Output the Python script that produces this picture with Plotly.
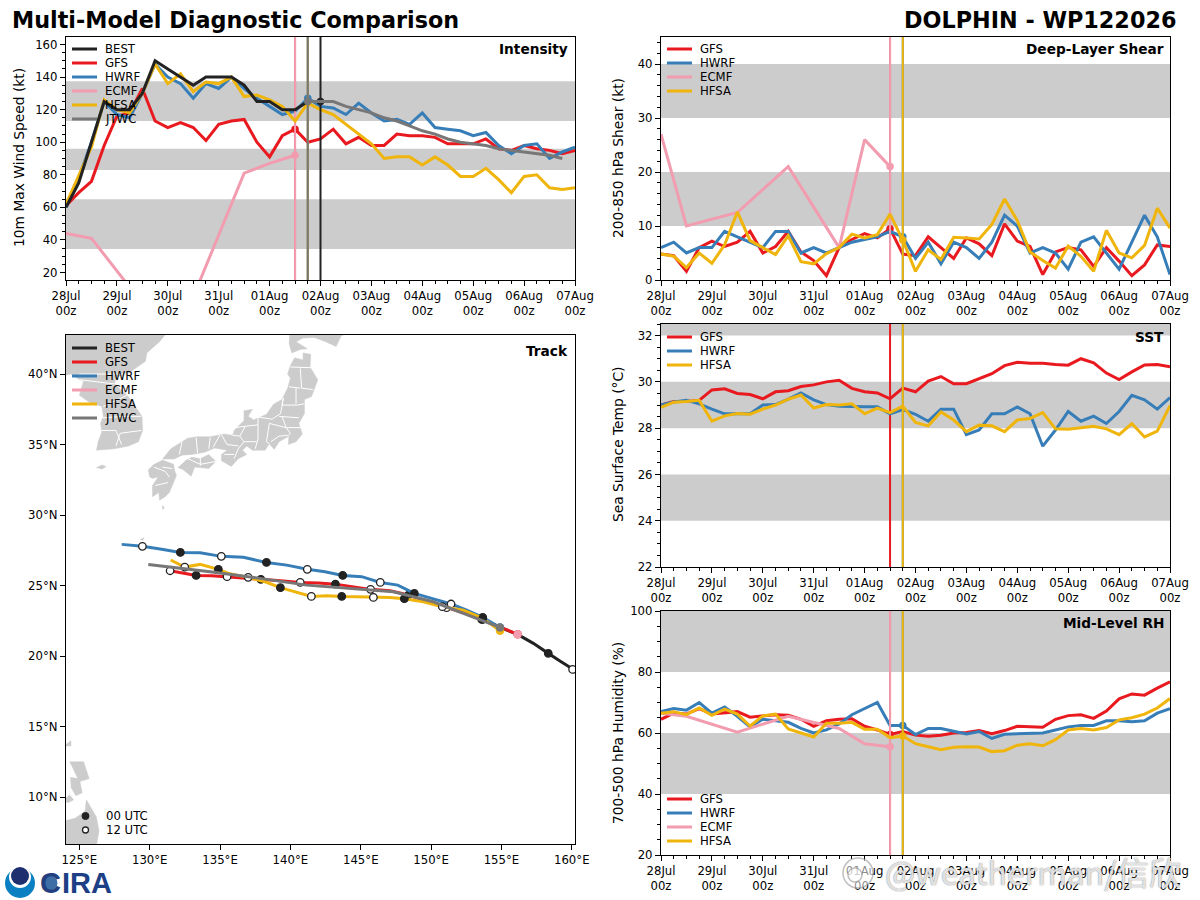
"""Multi-model tropical cyclone diagnostic panel, 5 subplots placed by pixel."""
import pandas as pd
import plotly.graph_objects as go

W, H = 1200, 900
FONT = "DejaVu Sans"

TIMES = pd.date_range("2026-07-28 00:00", "2026-08-07 00:00", freq="6h")
TICK_DATES = pd.date_range("2026-07-28", "2026-08-07", freq="D")
TICK_TEXT = [f"{d.strftime('%d%b')}<br>00z" for d in TICK_DATES]

COLORS = {"BEST": "#222222", "GFS": "#e8191f", "HWRF": "#377eb8",
          "ECMF": "#f29cb0", "HFSA": "#f0b50c", "JTWC": "#777777"}

ECMF_STEPS = [0, 2, 6, 10, 14, 16, 18]
INIT_STEP = {"BEST": 20, "GFS": 18, "HWRF": 19, "ECMF": 18, "HFSA": 19, "JTWC": 19}

# intensity (kt)
INT_BEST = [60, 75, 100, 125, 120, 120, 130, 150, 145, 140, 135, 140, 140, 140, 135, 125, 125, 120, 120, 125, 125]
INT_GFS = [61, 69, 76, 98, 116, 118, 133, 113, 109, 112, 109, 101, 111, 113, 114, 100, 91, 104, 108, 100, 102,
           108, 99, 103, 98, 98, 105, 104, 104, 103, 99, 99, 99, 102, 96, 95, 98, 96, 95, 93, 95]
INT_HWRF = [60, 78, 100, 125, 117, 115, 130, 148, 140, 136, 127, 136, 133, 140, 133, 127, 122, 117, 119, 127, 122,
            121, 117, 124, 118, 113, 114, 111, 118, 109, 108, 107, 104, 106, 98, 93, 98, 99, 90, 94, 97]
INT_ECMF = [44, 41, 1, 5, 81, 87, 92]
INT_HFSA = [62, 80, 97, 126, 120, 118, 130, 148, 136, 142, 131, 137, 136, 140, 128, 129, 126, 122, 113, 124, 120,
            117, 111, 105, 99, 90, 91, 91, 86, 91, 86, 79, 79, 84, 77, 69, 79, 80, 72, 71, 72]
INT_JTWC = [125, 125, 125, 122, 120, 118, 115, 113, 110, 107, 105, 102, 100, 99, 98, 96, 95, 94, 93, 92, 90]

# deep-layer shear (kt)
SHR_GFS = [4.8, 4.5, 1.6, 6, 7.2, 6.2, 7, 9, 5, 6.2, 9, 5.2, 3.6, 0.8, 6, 7.5, 8.6, 7.8, 9.5, 4.8, 4.5,
           8, 6, 4, 7.8, 6.7, 4.5, 10.4, 7.2, 6.2, 1, 5.2, 6, 5.6, 2.5, 6, 3.5, 0.8, 2.8, 6.5, 6.2]
SHR_HWRF = [6, 7, 5, 6, 6, 9, 8, 7, 6, 9, 9, 5, 6, 5, 6, 7, 7.5, 8, 9, 8, 4,
            7, 3, 7, 6, 4, 7, 12, 10, 5, 6, 5, 2, 7, 8, 5, 2, 7, 12, 8, 1]
SHR_ECMF = [27, 10, 12.5, 21, 6, 26, 21]
SHR_HFSA = [4.8, 4.4, 2.3, 5, 3.1, 6.5, 12.6, 7.3, 6, 4.7, 8.2, 3.4, 3, 4.9, 6, 8.5, 7.8, 8.4, 12.2, 7.4, 1.6,
            5.6, 3.8, 7.9, 7.8, 7.6, 10.3, 15, 11, 5.2, 3.6, 2.2, 6.3, 4.4, 1.6, 9.2, 5, 4.1, 6.4, 13.3, 9.6]

# sea surface temperature (C)
SST_GFS = [29, 29.15, 29.15, 29.2, 29.65, 29.7, 29.5, 29.45, 29.27, 29.57, 29.62, 29.8, 29.87, 30, 30.07, 29.72,
           29.57, 29.52, 29.27, 29.73, 29.57, 30.03, 30.23, 29.92, 29.92, 30.12, 30.35, 30.7, 30.85, 30.8, 30.8,
           30.75, 30.72, 31, 30.82, 30.38, 30.1, 30.43, 30.73, 30.75, 30.65]
SST_HWRF = [29, 29.13, 29.2, 29.05, 28.82, 28.62, 28.62, 28.62, 29, 29.02, 29.25, 29.52, 29.22, 29.02, 28.95, 28.92,
            28.92, 28.92, 28.62, 28.8, 28.6, 28.3, 28.82, 28.82, 27.72, 27.92, 28.62, 28.62, 28.92, 28.62, 27.22,
            27.92, 28.72, 28.3, 28.52, 28.2, 28.72, 29.42, 29.22, 28.82, 29.32]
SST_HFSA = [28.9, 29.12, 29.15, 29.2, 28.3, 28.53, 28.63, 28.6, 28.82, 29, 29.25, 29.43, 28.87, 29.02, 29, 29.05,
            28.62, 28.87, 28.67, 28.95, 28.25, 28.1, 28.7, 28.35, 27.85, 28.13, 28.1, 27.85, 28.35, 28.42, 28.67,
            27.97, 27.95, 28.02, 28.08, 27.97, 27.72, 28.2, 27.62, 27.87, 28.97]

# mid-level humidity (%)
RH_GFS = [64.5, 66.5, 66.2, 68, 66.2, 66.5, 67, 65.2, 65.5, 66, 65.8, 64.5, 62.2, 64, 64.5, 64.7, 62.2, 61, 59.5,
          60.5, 59.3, 58.9, 59.3, 60, 60.2, 60.8, 59.8, 60.8, 62.2, 62, 61.9, 64.5, 65.7, 66, 64.8, 67.2, 71.2,
          72.8, 72.4, 74.7, 76.8]
RH_HWRF = [67, 68, 67.5, 70, 66.5, 68.5, 65.5, 62, 64.5, 64, 63.5, 61.5, 60, 61, 63, 66, 68, 70, 62.5, 62.5, 59.5,
           61.5, 61.5, 60.5, 59.7, 60.5, 58.2, 59.6, 59.7, 60, 60, 61, 62, 62.5, 62.5, 64, 64, 63.7, 64, 66.5, 68]
RH_ECMF = [66.5, 65.5, 60.3, 65.5, 61.5, 56.5, 55.5]
RH_HFSA = [66.5, 67, 66, 68.2, 65.8, 67.8, 66.2, 62.3, 65.6, 66.2, 61.3, 60, 58.7, 63.2, 63.2, 63.5, 61.2, 61.2,
           58.5, 59, 56.5, 55.5, 54.5, 55.3, 55.5, 55.4, 53.9, 54.2, 56, 56.5, 55.8, 57.8, 61, 61.5, 61, 61.8,
           64.3, 65, 66.2, 68.2, 71.3]

# tracks, 6-hourly, from the first plotted step
BEST_LON = [161.3, 160.06, 159.16, 158.33, 157.27, 156.15, 154.9, 153.67]
BEST_LAT = [18.3, 19.05, 19.65, 20.19, 20.9, 21.54, 22.03, 22.6]
GFS_LON = [156.15, 154.9, 153.6, 152.4, 151.1, 149.7, 148.4, 147.08, 145.7, 144.5, 143.2, 142.0, 140.7, 139.3,
           137.9, 136.7, 135.5, 134.4, 133.3, 132.4, 131.45]
GFS_LAT = [21.54, 22.08, 22.6, 23.03, 23.43, 23.9, 24.33, 24.63, 24.73, 24.92, 25.1, 25.18, 25.22, 25.34,
           25.44, 25.53, 25.63, 25.7, 25.72, 25.86, 26.05]
HWRF_LON = [154.9, 153.67, 152.53, 151.42, 150.04, 148.81, 147.63, 146.39, 145.07, 143.72, 142.46, 141.2, 139.74,
            138.3, 136.66, 135.09, 133.58, 132.18, 130.85, 129.48, 128.01]
HWRF_LAT = [22.03, 22.74, 23.26, 23.69, 24.09, 24.44, 25.03, 25.22, 25.63, 25.72, 25.98, 26.15, 26.45,
            26.64, 27.0, 27.07, 27.33, 27.35, 27.57, 27.78, 27.92]
HFSA_LON = [154.9, 153.67, 152.29, 150.8, 149.45, 148.1, 147.08, 145.9, 144.7, 143.65, 142.58, 141.49, 140.33,
            139.29, 138.2, 137.0, 135.59, 134.88, 133.58, 132.49, 131.49]
HFSA_LAT = [21.8, 22.67, 23.26, 23.5, 23.85, 24.07, 24.16, 24.16, 24.21, 24.23, 24.28, 24.23, 24.56,
            24.85, 25.27, 25.58, 25.86, 26.15, 26.5, 26.31, 26.81]
ECMF_LON = [156.15]
ECMF_LAT = [21.54]
JTWC_LON = [154.9, 152.29, 150.16, 147.32, 144.47, 141.16, 137.84, 134.29, 129.9]
JTWC_LAT = [22.03, 23.01, 23.85, 24.56, 24.79, 25.03, 25.51, 25.98, 26.5]

# land outlines (lon, lat)
HONSHU = [(130.9, 33.95), (131.5, 34.7), (132.7, 35.45), (133.3, 35.55), (134.3, 35.55), (135.3, 35.75), (135.9, 35.65),
          (136.0, 36.0), (136.7, 36.7), (136.7, 37.4), (137.3, 37.5), (137.0, 37.0), (137.4, 36.75), (138.3, 37.15),
          (138.8, 37.85), (139.4, 38.2), (139.8, 39.0), (140.0, 39.7), (139.8, 40.0), (140.0, 40.6), (140.3, 41.15),
          (140.9, 41.0), (140.9, 41.5), (141.45, 41.4), (141.4, 40.5), (141.95, 39.6), (141.5, 38.4), (141.0, 38.2),
          (141.0, 37.2), (140.6, 36.5), (140.85, 35.75), (140.4, 35.2), (139.85, 35.0), (139.9, 35.6), (139.2, 35.2),
          (138.85, 34.65), (138.5, 35.05), (138.2, 34.6), (137.3, 34.6), (136.9, 34.9), (136.6, 34.6), (136.9, 34.3),
          (136.3, 34.0), (135.8, 33.45), (135.1, 33.85), (135.1, 34.3), (135.5, 34.6), (134.6, 34.75), (133.9, 34.45),
          (133.0, 34.3), (132.3, 34.25), (131.7, 33.95)]
HOKKAIDO = [(139.9, 42.2), (140.1, 41.5), (140.7, 41.75), (141.2, 41.8), (140.4, 42.3), (140.9, 42.55), (141.7, 42.6),
            (142.5, 42.3), (143.25, 41.95), (143.6, 42.7), (144.3, 43.0), (144.3, 44.0), (140.0, 44.0)]
SHIKOKU = [(132.0, 33.35), (132.6, 33.9), (133.0, 34.1), (133.6, 34.0), (134.2, 34.3), (134.7, 33.8), (134.2, 33.3),
           (133.2, 33.4), (132.95, 32.75), (132.4, 33.2)]
KYUSHU = [(130.9, 33.9), (131.7, 33.6), (131.75, 33.2), (131.9, 32.8), (131.4, 31.6), (131.1, 31.3), (130.7, 31.05),
          (130.65, 31.6), (130.2, 31.3), (130.2, 32.1), (130.6, 32.7), (130.2, 32.6), (130.0, 32.7), (129.9, 33.2),
          (130.3, 33.6)]
KOREA = [(126.2, 34.6), (127.5, 34.7), (128.5, 34.9), (129.2, 35.2), (129.5, 36.0), (129.45, 37.0), (128.4, 38.5),
         (127.5, 39.3), (127.6, 39.8), (128.4, 40.0), (129.7, 40.9), (129.8, 41.5), (130.7, 42.3), (131.2, 42.9),
         (123.5, 42.9), (123.5, 39.8), (124.4, 40.0), (125.0, 39.6), (125.3, 39.5), (125.0, 38.5), (125.7, 38.0),
         (126.6, 37.7), (126.7, 37.0), (126.5, 36.5), (126.6, 35.9), (126.3, 35.1)]
JEJU = [(126.2, 33.35), (126.6, 33.55), (126.9, 33.45), (126.6, 33.25)]
TANEGASHIMA = [(130.9, 30.7), (131.05, 30.5), (130.9, 30.4)]
AMAMI = [(129.3, 28.25), (129.6, 28.4), (129.5, 28.2)]
MINDANAO = [(123.5, 8.2), (124.7, 8.5), (125.4, 9.0), (125.5, 9.8), (126.2, 8.6), (126.4, 7.6), (126.2, 6.5), (123.5, 6.5)]
LEYTE = [(124.35, 11.4), (125.0, 11.3), (125.2, 10.3), (124.75, 10.1), (124.4, 10.7)]
SAMAR = [(124.3, 12.5), (125.3, 12.5), (125.7, 11.3), (125.0, 11.1), (124.6, 11.9)]
BOHOL = [(123.8, 9.7), (124.3, 10.15), (124.6, 9.8), (124.2, 9.6)]
CATANDUANES = [(123.9, 13.6), (124.4, 14.0), (124.4, 13.6)]
LAND = [HONSHU, HOKKAIDO, SHIKOKU, KYUSHU, KOREA, JEJU, TANEGASHIMA, AMAMI, MINDANAO, LEYTE, SAMAR, BOHOL, CATANDUANES]

BORDERS = [
    [(140.0, 40.5), (141.5, 40.45)], [(140.7, 40.4), (140.8, 39.0)], [(140.8, 39.0), (141.6, 38.9)],
    [(139.9, 39.1), (140.7, 39.0)], [(140.4, 39.0), (140.4, 37.9)], [(139.5, 38.3), (139.4, 37.8), (140.5, 37.8), (141.0, 37.9)],
    [(139.2, 37.0), (140.6, 36.9)], [(139.5, 38.3), (139.3, 37.2), (138.7, 36.8), (137.7, 36.95)],
    [(139.4, 37.0), (139.7, 36.2), (140.75, 36.2)], [(138.5, 36.5), (139.7, 36.2), (140.0, 35.8), (139.8, 35.6)],
    [(138.6, 35.2), (139.2, 35.6), (139.8, 35.65)], [(137.7, 36.95), (137.7, 35.4), (137.5, 34.7)],
    [(138.5, 36.5), (138.3, 35.2), (138.5, 35.05)], [(136.8, 36.3), (137.7, 36.4)],
    [(137.6, 35.2), (136.7, 35.2), (136.4, 35.6), (136.8, 36.3)], [(136.1, 36.2), (136.8, 36.3)],
    [(135.9, 35.65), (136.4, 35.6)], [(136.7, 35.2), (136.3, 34.7), (136.0, 34.0)],
    [(135.1, 35.7), (135.5, 35.0), (136.3, 34.9)], [(135.3, 34.3), (136.0, 34.3)], [(135.0, 35.7), (134.5, 34.8)],
    [(134.3, 35.5), (134.2, 34.7)], [(133.3, 35.5), (133.4, 34.4)], [(132.3, 35.2), (132.1, 34.3)],
    [(132.7, 34.0), (133.6, 33.6), (134.7, 33.8)], [(133.6, 34.2), (133.6, 33.5)],
    [(130.9, 33.4), (131.6, 33.3)], [(130.3, 33.4), (131.1, 33.1), (131.4, 32.7)], [(130.4, 32.1), (131.3, 32.3)],
    [(126.7, 37.7), (128.4, 38.5)], [(126.6, 36.9), (128.3, 37.0), (129.4, 37.0)], [(126.6, 36.0), (127.6, 36.0), (128.0, 35.0)],
    [(127.6, 34.9), (127.9, 35.8), (129.4, 36.0)], [(125.0, 39.6), (127.5, 39.3)], [(125.0, 40.0), (128.4, 40.0)],
]

BANDS_INT = [(34.5, 65), (83, 96), (113, 137.5)]
BANDS_SHR = [(10, 20), (30, 40)]
BANDS_SST = [(24, 26), (28, 30), (32, 34)]
BANDS_RH = [(40, 60), (80, 100)]


def dom_x(left, right):
    return [left / W, right / W]


def dom_y(top, bottom):
    return [1 - bottom / H, 1 - top / H]


def time_axis(left, right, anchor):
    return dict(domain=dom_x(left, right), anchor=anchor, type="date",
                range=[TICK_DATES[0], TICK_DATES[-1]], tickmode="array",
                tickvals=list(TICK_DATES), ticktext=TICK_TEXT, ticks="outside", ticklen=5,
                tickwidth=1.1, tickcolor="black", tickangle=0, showgrid=False, zeroline=False,
                showline=True, mirror=True, linecolor="black", linewidth=1.3, automargin=False,
                tickfont=dict(family=FONT, size=11.7, color="black"),
                minor=dict(dtick=6 * 3600 * 1000, tick0="2026-07-28", ticks="outside", ticklen=3,
                           tickwidth=1, tickcolor="black", showgrid=False))


def value_axis(top, bottom, anchor, yrange, dtick, minor):
    return dict(domain=dom_y(top, bottom), anchor=anchor, range=yrange, dtick=dtick, ticks="outside", ticklen=5,
                tickwidth=1.1, tickcolor="black", showgrid=False, zeroline=False, showline=True, mirror=True,
                linecolor="black", linewidth=1.3, automargin=False,
                tickfont=dict(family=FONT, size=11.7, color="black"),
                minor=dict(dtick=minor, ticks="outside", ticklen=3, tickwidth=1, tickcolor="black", showgrid=False))


fig = go.Figure()


def add_series(xref, yref, model, steps, values, vrange, dots):
    """Line, start-of-forecast vertical line and marker for one model."""
    color = COLORS[model]
    x = [TIMES[s] for s in steps]
    common = dict(xaxis=xref, yaxis=yref, showlegend=False, hoverinfo="skip")
    fig.add_trace(go.Scatter(x=x, y=values, mode="lines", line=dict(color=color, width=3), name=model, **common))
    start = INIT_STEP[model]
    fig.add_trace(go.Scatter(x=[TIMES[start], TIMES[start]], y=vrange, mode="lines",
                             line=dict(color=color, width=2), **common))
    if dots:
        fig.add_trace(go.Scatter(x=[TIMES[start]], y=[values[steps.index(start)]], mode="markers",
                                 marker=dict(color=color, size=7.5), **common))


def add_panel(xref, yref, series, vrange, bands, dots=True):
    for lo, hi in bands:
        fig.add_shape(type="rect", xref=f"{xref} domain", yref=yref, x0=0, x1=1, y0=lo, y1=min(hi, vrange[1]),
                      fillcolor="#cccccc", line_width=0, layer="below")
    for model, values in series:
        if model == "ECMF":
            steps = ECMF_STEPS
        elif model == "JTWC":
            steps = list(range(19, 19 + len(values)))
        else:
            steps = list(range(len(values)))
        add_series(xref, yref, model, steps, values, vrange, dots)


def add_label(px, py, text, size=11.7, anchor="left", bold=False, color="black", family=FONT, angle=0):
    fig.add_annotation(xref="paper", yref="paper", x=px / W, y=1 - py / H, text=f"<b>{text}</b>" if bold else text,
                       showarrow=False, xanchor=anchor, yanchor="middle", borderpad=0, textangle=angle,
                       font=dict(family=family, size=size, color=color))


def add_legend(left, top, models, step=14):
    for i, model in enumerate(models):
        y = 1 - (top + i * step) / H
        fig.add_shape(type="line", xref="paper", yref="paper", x0=left / W, x1=(left + 25) / W, y0=y, y1=y,
                      line=dict(color=COLORS[model], width=3), layer="above")
        add_label(left + 32, top + i * step, model)


def pixel_circle(cx, cy, r, fill, line="rgba(0,0,0,0)", lw=0):
    fig.add_shape(type="circle", xref="paper", yref="paper", x0=(cx - r) / W, x1=(cx + r) / W,
                  y0=1 - (cy + r) / H, y1=1 - (cy - r) / H, fillcolor=fill,
                  line=dict(color=line, width=lw), layer="above")


RANGE_INT = [15.4, 164.6]
RANGE_SHR = [0, 45]
RANGE_SST = [22, 32.5]
RANGE_RH = [20, 100]

# best track and JTWC sit on top of the model lines
add_panel("x", "y", [("GFS", INT_GFS), ("HWRF", INT_HWRF), ("ECMF", INT_ECMF), ("HFSA", INT_HFSA),
                     ("BEST", INT_BEST), ("JTWC", INT_JTWC)], RANGE_INT, BANDS_INT)
add_panel("x2", "y2", [("GFS", SHR_GFS), ("HWRF", SHR_HWRF), ("ECMF", SHR_ECMF), ("HFSA", SHR_HFSA)], RANGE_SHR, BANDS_SHR)
add_panel("x4", "y4", [("GFS", SST_GFS), ("HWRF", SST_HWRF), ("HFSA", SST_HFSA)], RANGE_SST, BANDS_SST, dots=False)
add_panel("x5", "y5", [("GFS", RH_GFS), ("HWRF", RH_HWRF), ("ECMF", RH_ECMF), ("HFSA", RH_HFSA)], RANGE_RH, BANDS_RH)

# track map
for poly in LAND:
    fig.add_trace(go.Scatter(x=[p[0] for p in poly], y=[p[1] for p in poly], xaxis="x3", yaxis="y3", mode="lines",
                             fill="toself", fillcolor="#cccccc", line=dict(color="#cccccc", width=0.5),
                             showlegend=False, hoverinfo="skip"))
border_lon, border_lat = [], []
for seg in BORDERS:
    border_lon += [p[0] for p in seg] + [None]
    border_lat += [p[1] for p in seg] + [None]
fig.add_trace(go.Scatter(x=border_lon, y=border_lat, xaxis="x3", yaxis="y3", mode="lines",
                         line=dict(color="white", width=1), showlegend=False, hoverinfo="skip"))

TRACKS = [("BEST", BEST_LON, BEST_LAT), ("GFS", GFS_LON, GFS_LAT), ("HWRF", HWRF_LON, HWRF_LAT),
          ("ECMF", ECMF_LON, ECMF_LAT), ("HFSA", HFSA_LON, HFSA_LAT), ("JTWC", JTWC_LON, JTWC_LAT)]
for model, lons, lats in TRACKS:
    fig.add_trace(go.Scatter(x=lons, y=lats, xaxis="x3", yaxis="y3", mode="lines",
                             line=dict(color=COLORS[model], width=3), showlegend=False, hoverinfo="skip"))
    if model not in ("JTWC", "ECMF"):
        # 12-hourly dots; 00 UTC is filled, 12 UTC is open
        if model == "BEST":
            idx = [1, 3, 7]
            fill = ["white", "#222222", "#222222"]
        else:
            phase_start = 2 if model == "GFS" else 1
            idx = list(range(phase_start, len(lons), 2))
            fill = ["#222222" if i % 2 == 0 else "white" for i in range(len(idx))]
        fig.add_trace(go.Scatter(x=[lons[i] for i in idx], y=[lats[i] for i in idx], xaxis="x3", yaxis="y3",
                                 mode="markers", marker=dict(color=fill, size=7.5, line=dict(color="#222222", width=1.3)),
                                 showlegend=False, hoverinfo="skip"))
    if model != "BEST":
        fig.add_trace(go.Scatter(x=[lons[0]], y=[lats[0]], xaxis="x3", yaxis="y3", mode="markers",
                                 marker=dict(color=COLORS[model], size=8.5), showlegend=False, hoverinfo="skip"))

add_legend(72, 49, ["BEST", "GFS", "HWRF", "ECMF", "HFSA", "JTWC"])
add_legend(667, 49, ["GFS", "HWRF", "ECMF", "HFSA"])
add_legend(667, 337, ["GFS", "HWRF", "HFSA"])
add_legend(667, 799, ["GFS", "HWRF", "ECMF", "HFSA"])
add_legend(72, 348, ["BEST", "GFS", "HWRF", "ECMF", "HFSA", "JTWC"])
pixel_circle(85.5, 816, 3.5, "#222222", "#222222", 1)
pixel_circle(85.5, 830, 3, "white", "#222222", 1.3)
add_label(105, 816, "00 UTC")
add_label(105, 830, "12 UTC")

add_label(11, 20, "Multi-Model Diagnostic Comparison", size=22.3, bold=True)
add_label(1177, 20, "DOLPHIN - WP122026", size=22.3, anchor="right", bold=True)
add_label(569, 49, "Intensity", size=13.7, anchor="right", bold=True)
add_label(1165, 49, "Deep-Layer Shear", size=13.7, anchor="right", bold=True)
add_label(569, 351, "Track", size=13.7, anchor="right", bold=True)
add_label(1165, 337, "SST", size=13.7, anchor="right", bold=True)
add_label(1165, 623, "Mid-Level RH", size=13.7, anchor="right", bold=True)

# y axis titles sit at fixed pixel columns
add_label(19, 158, "10m Max Wind Speed (kt)", size=13.8, anchor="center", angle=-90)
add_label(618, 158, "200-850 hPa Shear (kt)", size=13.8, anchor="center", angle=-90)
add_label(618, 445, "Sea Surface Temp (°C)", size=13.8, anchor="center", angle=-90)
add_label(618, 733, "700-500 hPa Humidity (%)", size=13.8, anchor="center", angle=-90)

# logos along the bottom-left
pixel_circle(20, 883, 15, "#0a7fc2")
pixel_circle(20, 877, 11, "white")
pixel_circle(20, 876, 9, "#1d2f6f")
add_label(39, 883, "<b>C</b>", size=29, color="#22407f", family="Liberation Sans")
pixel_circle(50, 883, 7.5, "#3d6ea5")
add_label(61, 883, "<b>IRA</b>", size=29, color="#1c3f85", family="Liberation Sans")

# watermark
pixel_circle(858, 873, 15, "rgba(255,255,255,0.55)", "rgba(150,150,150,0.6)", 1.5)
pixel_circle(855, 875, 7, "rgba(255,255,255,0.55)", "rgba(150,150,150,0.6)", 1.5)
add_label(884, 871, "@weatherman/信欣", size=32, color="rgba(255,255,255,0.72)", family="Noto Sans CJK SC")
fig.layout.annotations[-1].font.shadow = "0 0 1.5px #888, 0 0 1px #888"

fig.update_layout(
    width=W, height=H, autosize=False, paper_bgcolor="white", plot_bgcolor="white",
    margin=dict(l=0, r=0, t=0, b=0), showlegend=False,
    xaxis=time_axis(66, 575, "y"), yaxis=value_axis(37, 280, "x", RANGE_INT, 20, 5),
    xaxis2=time_axis(661, 1170, "y2"), yaxis2=value_axis(37, 280, "x2", RANGE_SHR, 10, 2),
    xaxis4=time_axis(661, 1170, "y4"), yaxis4=value_axis(324, 567, "x4", RANGE_SST, 2, 0.5),
    xaxis5=time_axis(661, 1170, "y5"), yaxis5=value_axis(611, 855, "x5", RANGE_RH, 20, 5),
    xaxis3=dict(domain=dom_x(66, 575), anchor="y3", range=[124.05, 160.23], tickmode="array",
                tickvals=[125, 130, 135, 140, 145, 150, 155, 160],
                ticktext=["125°E", "130°E", "135°E", "140°E", "145°E", "150°E", "155°E", "160°E"],
                ticks="outside", ticklen=5, tickcolor="black", showgrid=False, zeroline=False, showline=True,
                mirror=True, linecolor="black", linewidth=1.3, automargin=False,
                tickfont=dict(family=FONT, size=11.7, color="black")),
    yaxis3=dict(domain=dom_y(335, 844), anchor="x3", range=[6.67, 42.77], tickmode="array",
                tickvals=[10, 15, 20, 25, 30, 35, 40],
                ticktext=["10°N", "15°N", "20°N", "25°N", "30°N", "35°N", "40°N"],
                ticks="outside", ticklen=5, tickcolor="black", showgrid=False, zeroline=False, showline=True,
                mirror=True, linecolor="black", linewidth=1.3, automargin=False,
                tickfont=dict(family=FONT, size=11.7, color="black")),
)

fig.write_html("out.html", config={"displayModeBar": False},
               post_script="document.body.style.margin='0';document.body.style.overflow='hidden';")
